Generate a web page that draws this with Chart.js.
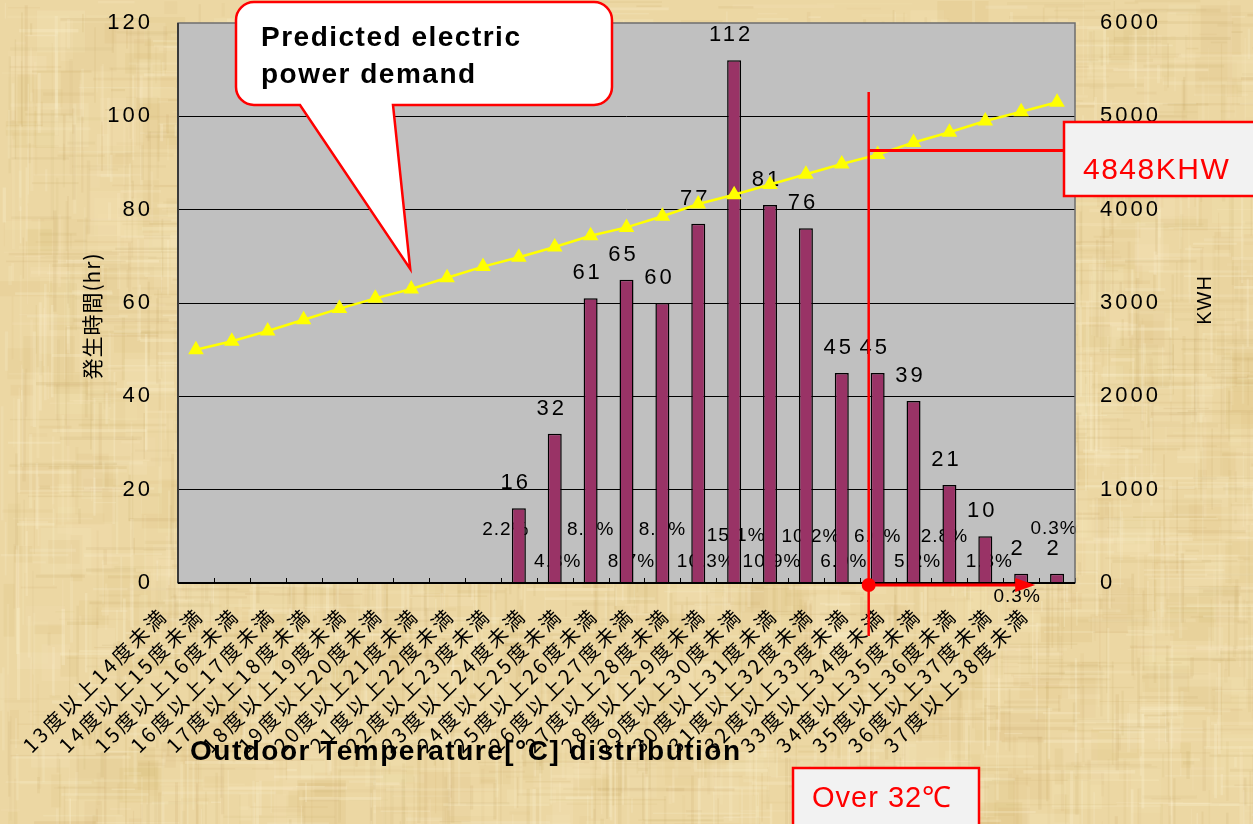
<!DOCTYPE html>
<html>
<head>
<meta charset="utf-8">
<script src="https://cdn.jsdelivr.net/npm/chart.js@4/dist/chart.umd.min.js"></script>
<style>
  html, body { margin: 0; padding: 0; background: #EAD49C; }
  canvas { display: block; }
</style>
</head>
<body>
<canvas id="chart" width="1253" height="824"></canvas>
<script>
// Outdoor temperature bands (°C)
const categories = [
  '13度以上14度未満', '14度以上15度未満', '15度以上16度未満', '16度以上17度未満',
  '17度以上18度未満', '18度以上19度未満', '19度以上20度未満', '20度以上21度未満',
  '21度以上22度未満', '22度以上23度未満', '23度以上24度未満', '24度以上25度未満',
  '25度以上26度未満', '26度以上27度未満', '27度以上28度未満', '28度以上29度未満',
  '29度以上30度未満', '30度以上31度未満', '31度以上32度未満', '32度以上33度未満',
  '33度以上34度未満', '34度以上35度未満', '35度以上36度未満', '36度以上37度未満',
  '37度以上38度未満'
];

// Hours of occurrence per band (left axis)
const hours = [0, 0, 0, 0, 0, 0, 0, 0, 0, 16, 32, 61, 65, 60, 77, 112, 81, 76, 45, 45, 39, 21, 10, 2, 2];

// Predicted electric power demand per band, kWh (right axis)
const demandKwh = [2500, 2590, 2700, 2820, 2940, 3050, 3150, 3270, 3390, 3490, 3600, 3720, 3810,
                   3930, 4060, 4160, 4270, 4380, 4490, 4590, 4720, 4830, 4950, 5050, 5150];

const leftTicks = [0, 20, 40, 60, 80, 100, 120];
const rightTicks = [0, 1000, 2000, 3000, 4000, 5000, 6000];

// Demand at the 32°C threshold band
const over32Index = 19;
const demandAt32 = 4848;

// Share of total hours, one decimal
const totalHours = hours.reduce((a, b) => a + b, 0);
const shareLabels = hours.map(h => h > 0 ? (h / totalHours * 100).toFixed(1) + '%' : '');

// Layout of the share labels: lift above the x axis (px) and horizontal nudge
const shareLift = [null, null, null, null, null, null, null, null, null,
                   53, 21, 53, 21, 53, 21, 47, 21, 46, 21, 46, 21, 46, 21, -14, 54];
const shareNudge = [0, 0, 0, 0, 0, 0, 0, 0, 0, -13, 3, 0, 5, 0, 8, 2, 2, 5, 2, 0, 4, -5, 4, -4, -3];

// Target plot rectangle inside the 1253x824 canvas
const PLOT = { left: 178, top: 23, right: 1075, bottom: 583 };

const LATIN = '"Liberation Sans", Arial, sans-serif';
const CJK = '"Noto Sans CJK JP", "Noto Sans CJK SC", sans-serif';

// Parchment background texture
function makeParchment(w, h) {
  const c = document.createElement('canvas');
  c.width = w; c.height = h;
  const g = c.getContext('2d');
  g.fillStyle = '#ECD7A3';
  g.fillRect(0, 0, w, h);
  let s = 987654321;
  const rnd = () => { s = (Math.imul(s, 1664525) + 1013904223) >>> 0; return s / 4294967296; };
  // soft patches
  for (let i = 0; i < 900; i++) {
    const x = rnd() * w, y = rnd() * h, pw = 8 + rnd() * 45, ph = 8 + rnd() * 45;
    const light = rnd() < 0.55;
    g.fillStyle = light ? `rgba(247,232,190,${0.10 + rnd() * 0.15})` : `rgba(212,180,110,${0.06 + rnd() * 0.10})`;
    g.fillRect(x, y, pw, ph);
  }
  // fibres running along both directions
  for (let i = 0; i < 4200; i++) {
    const vertical = rnd() < 0.5;
    const x = rnd() * w, y = rnd() * h;
    const len = 10 + rnd() * 110, th = 1 + rnd() * 2.5;
    const light = rnd() < 0.5;
    g.fillStyle = light ? `rgba(252,241,208,${0.08 + rnd() * 0.22})` : `rgba(196,164,98,${0.05 + rnd() * 0.12})`;
    if (vertical) g.fillRect(x, y, th, len); else g.fillRect(x, y, len, th);
  }
  return c;
}
const parchment = makeParchment(1253, 824);

const backdropPlugin = {
  id: 'backdrop',
  beforeDraw(chart) {
    const { ctx, chartArea: a } = chart;
    ctx.save();
    ctx.drawImage(parchment, 0, 0);
    ctx.fillStyle = '#C0C0C0';
    ctx.fillRect(a.left, a.top, a.right - a.left, a.bottom - a.top);
    ctx.restore();
    // tick text is set with wide tracking
    ctx.letterSpacing = '3px';
  },
  afterDraw(chart) {
    chart.ctx.letterSpacing = '0px';
  }
};

const labelPlugin = {
  id: 'barLabels',
  beforeDatasetsDraw(chart) {
    // share labels sit behind the bars
    const { ctx, scales: { x }, chartArea: a } = chart;
    ctx.save();
    ctx.font = '19px ' + LATIN;
    ctx.letterSpacing = '1px';
    ctx.fillStyle = '#000';
    ctx.textAlign = 'center';
    ctx.textBaseline = 'middle';
    hours.forEach((h, i) => {
      if (!h) return;
      ctx.fillText(shareLabels[i], x.getPixelForValue(i) + shareNudge[i], a.bottom - shareLift[i]);
    });
    ctx.restore();
  },
  afterDatasetDraw(chart, args) {
    if (args.index !== 0) return;
    const { ctx, scales: { x, y }, chartArea: a } = chart;
    ctx.save();
    // tick marks at band boundaries, pointing into the plot
    const cw = x.getPixelForValue(1) - x.getPixelForValue(0);
    ctx.strokeStyle = '#000';
    ctx.lineWidth = 1;
    ctx.beginPath();
    for (let i = 0; i <= categories.length; i++) {
      const px = Math.round(x.getPixelForValue(i) - cw / 2) + 0.5;
      ctx.moveTo(px, a.bottom - 5);
      ctx.lineTo(px, a.bottom);
    }
    ctx.stroke();
    // plot frame
    ctx.strokeStyle = '#6E6E6E';
    ctx.lineWidth = 1.5;
    ctx.strokeRect(a.left, a.top, a.right - a.left, a.bottom - a.top);
    ctx.strokeStyle = '#3A3A3A';
    ctx.lineWidth = 2;
    ctx.beginPath();
    ctx.moveTo(a.left, a.top); ctx.lineTo(a.left, a.bottom);
    ctx.stroke();
    ctx.strokeStyle = '#000';
    ctx.beginPath();
    ctx.moveTo(a.left, a.bottom); ctx.lineTo(a.right, a.bottom);
    ctx.stroke();
    // hour values above bars
    ctx.font = '22px ' + LATIN;
    ctx.letterSpacing = '3px';
    ctx.fillStyle = '#000';
    ctx.textAlign = 'center';
    ctx.textBaseline = 'middle';
    hours.forEach((h, i) => {
      if (!h) return;
      ctx.fillText(String(h), x.getPixelForValue(i) - 3, y.getPixelForValue(h) - 25);
    });
    ctx.restore();
  }
};

function tracked(ctx, px) { ctx.letterSpacing = px + 'px'; }

const calloutPlugin = {
  id: 'callouts',
  afterDraw(chart) {
    const { ctx, scales: { x, y2 }, chartArea: a } = chart;
    const cw = x.getPixelForValue(1) - x.getPixelForValue(0);
    ctx.save();

    // speech bubble pointing at the demand line
    const tipX = x.getPixelForValue(6) - 1;
    const tipY = y2.getPixelForValue(demandKwh[6]) - 20;
    const bx = 236, by = 2, bw = 376, bh = 103, r = 18;
    ctx.beginPath();
    ctx.moveTo(bx + r, by);
    ctx.lineTo(bx + bw - r, by);
    ctx.arcTo(bx + bw, by, bx + bw, by + r, r);
    ctx.lineTo(bx + bw, by + bh - r);
    ctx.arcTo(bx + bw, by + bh, bx + bw - r, by + bh, r);
    ctx.lineTo(393, by + bh);
    ctx.lineTo(tipX, tipY);
    ctx.lineTo(300, by + bh);
    ctx.lineTo(bx + r, by + bh);
    ctx.arcTo(bx, by + bh, bx, by + bh - r, r);
    ctx.lineTo(bx, by + r);
    ctx.arcTo(bx, by, bx + r, by, r);
    ctx.closePath();
    ctx.fillStyle = '#FFFFFF';
    ctx.fill();
    ctx.strokeStyle = '#FF0000';
    ctx.lineWidth = 2.5;
    ctx.stroke();
    ctx.fillStyle = '#000';
    ctx.font = 'bold 28px ' + LATIN;
    tracked(ctx, 1.5);
    ctx.textAlign = 'left';
    ctx.textBaseline = 'middle';
    ctx.fillText('Predicted electric', 261, 38);
    ctx.fillText('power demand', 261, 75);

    // 32°C threshold marker
    const vx = x.getPixelForValue(over32Index) - cw / 4;
    const hy = y2.getPixelForValue(demandKwh[over32Index]) - 4;
    ctx.strokeStyle = '#FF0000';
    ctx.fillStyle = '#FF0000';
    ctx.lineWidth = 2.5;
    ctx.beginPath();
    ctx.moveTo(vx, 92);
    ctx.lineTo(vx, 636);
    ctx.stroke();
    ctx.lineWidth = 3;
    ctx.beginPath();
    ctx.moveTo(vx, hy);
    ctx.lineTo(1064, hy);
    ctx.stroke();
    // arrow along the axis
    const ay = a.bottom + 2;
    const ax2 = x.getPixelForValue(23) + 14;
    ctx.beginPath();
    ctx.moveTo(vx, ay);
    ctx.lineTo(ax2 - 16, ay);
    ctx.stroke();
    ctx.beginPath();
    ctx.moveTo(ax2, ay);
    ctx.lineTo(ax2 - 20, ay - 7);
    ctx.lineTo(ax2 - 20, ay + 7);
    ctx.closePath();
    ctx.fill();
    ctx.beginPath();
    ctx.arc(vx, ay, 7, 0, Math.PI * 2);
    ctx.fill();

    // value box
    ctx.lineWidth = 2.5;
    ctx.fillStyle = '#F2F2F2';
    ctx.fillRect(1064, 122, 200, 74);
    ctx.strokeRect(1064, 122, 200, 74);
    ctx.fillStyle = '#FF0000';
    ctx.font = '30px ' + LATIN;
    tracked(ctx, 1.5);
    ctx.textAlign = 'left';
    ctx.fillText(demandAt32 + 'KHW', 1083, 171);

    // threshold box
    ctx.fillStyle = '#F2F2F2';
    ctx.fillRect(793, 768, 186, 70);
    ctx.strokeRect(793, 768, 186, 70);
    ctx.fillStyle = '#FF0000';
    ctx.font = '29px ' + LATIN;
    tracked(ctx, 1);
    ctx.textAlign = 'left';
    ctx.fillText('Over 32℃', 812, 799);

    // axis titles
    ctx.fillStyle = '#000';
    ctx.font = 'bold 28px ' + LATIN;
    tracked(ctx, 1.5);
    ctx.textAlign = 'left';
    ctx.fillText('Outdoor Temperature[°C] distribution', 190, 752);

    ctx.textAlign = 'center';
    ctx.font = '21px ' + CJK;
    tracked(ctx, 1);
    ctx.save();
    ctx.translate(92, 316);
    ctx.rotate(-Math.PI / 2);
    ctx.fillText('発生時間(hr)', 0, 0);
    ctx.restore();

    ctx.font = '20px ' + LATIN;
    ctx.save();
    ctx.translate(1205, 300);
    ctx.rotate(-Math.PI / 2);
    ctx.fillText('KWH', 0, 0);
    ctx.restore();

    ctx.restore();
  }
};

// fixed axis thickness, no extra edge padding from tick labels
function pinVertical(width) {
  return scale => { scale.width = width; scale.paddingTop = 0; scale.paddingBottom = 0; };
}

new Chart(document.getElementById('chart'), {
  type: 'bar',
  data: {
    labels: categories,
    datasets: [
      {
        type: 'bar',
        label: '発生時間(hr)',
        data: hours,
        yAxisID: 'y',
        backgroundColor: '#993366',
        borderColor: '#000000',
        borderWidth: 1.5,
        borderSkipped: 'bottom',
        barPercentage: 0.39,
        categoryPercentage: 1.0,
        order: 1
      },
      {
        type: 'line',
        label: 'KWH',
        data: demandKwh,
        yAxisID: 'y2',
        borderColor: '#FFFF00',
        borderWidth: 2.5,
        pointStyle: 'triangle',
        pointRadius: 9,
        pointBackgroundColor: '#FFFF00',
        pointBorderColor: '#FFFF00',
        pointBorderWidth: 0,
        tension: 0,
        order: 0
      }
    ]
  },
  options: {
    responsive: false,
    animation: false,
    devicePixelRatio: 1,
    layout: { padding: { top: PLOT.top, left: 0, right: 0, bottom: 0 } },
    plugins: { legend: { display: false }, tooltip: { enabled: false } },
    scales: {
      x: {
        grid: { display: false, drawTicks: false },
        border: { display: false },
        ticks: {
          autoSkip: false,
          minRotation: 45,
          maxRotation: 45,
          padding: 20,
          labelOffset: -32,
          color: '#000',
          font: { family: CJK, size: 20 }
        },
        afterFit(scale) {
          scale.height = 824 - PLOT.bottom;
          scale.paddingLeft = 0;
          scale.paddingRight = 0;
        }
      },
      y: {
        position: 'left',
        min: 0,
        max: 120,
        afterBuildTicks(scale) { scale.ticks = leftTicks.map(v => ({ value: v })); },
        grid: {
          drawTicks: false,
          color: ctx => (ctx.tick && (ctx.tick.value === 0 || ctx.tick.value === 120)) ? 'rgba(0,0,0,0)' : '#000000',
          lineWidth: 1
        },
        border: { display: false },
        ticks: { padding: 25, color: '#000', font: { family: LATIN, size: 22 } },
        afterFit: pinVertical(PLOT.left)
      },
      y2: {
        position: 'right',
        min: 0,
        max: 6000,
        afterBuildTicks(scale) { scale.ticks = rightTicks.map(v => ({ value: v })); },
        grid: { display: false, drawTicks: false },
        border: { display: false },
        ticks: {
          padding: 25,
          color: '#000',
          font: { family: LATIN, size: 22 },
          callback: v => String(v)
        },
        afterFit: pinVertical(1253 - PLOT.right)
      }
    }
  },
  plugins: [backdropPlugin, labelPlugin, calloutPlugin]
});
</script>
</body>
</html>
